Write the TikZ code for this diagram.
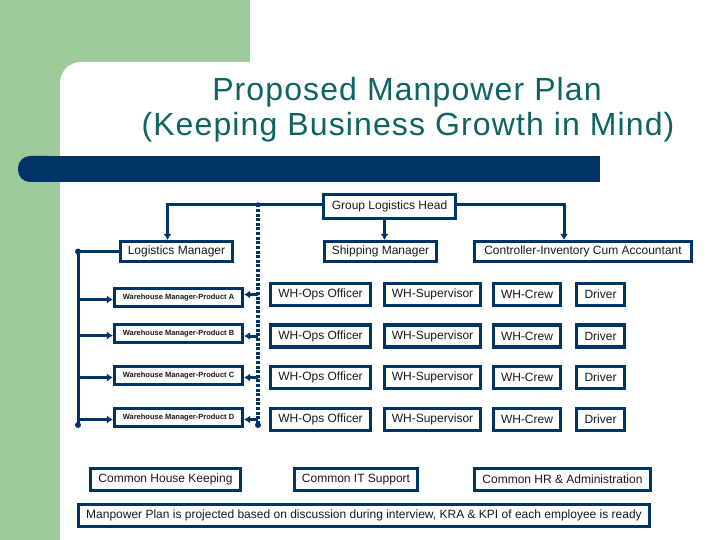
\documentclass[tikz,border=0pt]{standalone}
\usepackage{fontspec}
\setmainfont{Liberation Sans}
\newfontfamily\titlefont[LetterSpace=3.5]{Liberation Sans}
\usetikzlibrary{arrows.meta}
\definecolor{navy}{RGB}{0,51,102}
\definecolor{bggreen}{RGB}{157,203,156}
\definecolor{titleteal}{RGB}{14,100,98}
\definecolor{txt}{RGB}{25,25,25}
\tikzset{
  box/.style={draw=navy, line width=3.2pt, fill=white, inner sep=0pt, text=txt,
    font=\fontsize{12}{14}\selectfont},
  wbox/.style={box, minimum width=128pt, minimum height=18pt,
    font=\bfseries\fontsize{7.5}{9}\selectfont},
  opsbox/.style={box, minimum height=22pt},
  conn/.style={draw=navy, line width=3pt},
  arr/.style={conn, -{Latex[length=6pt,width=8pt]}},
  dotline/.style={draw=navy, line width=3.5pt, dash pattern=on 3pt off 1.6pt},
}
\begin{document}
\begin{tikzpicture}[x=1pt,y=-1pt]
\useasboundingbox (0,0) rectangle (720,540);
% background
\fill[white] (0,0) rectangle (720,540);
\fill[bggreen] (0,0) rectangle (250,540);
\fill[white, rounded corners=21pt] (60,62) rectangle (780,600);
% blue bar
\fill[navy, rounded corners=12pt] (18,156) rectangle (60,182);
\fill[navy] (40,156) rectangle (600,182);
% title
\node[anchor=base, text=titleteal, font=\titlefont\fontsize{32}{36}\selectfont, inner sep=0pt] (t1) at (407,101) {Proposed Manpower Plan};
\node[anchor=base, text=titleteal, font=\titlefont\fontsize{32}{36}\selectfont, inner sep=0pt] (t2) at (408,136) {(Keeping Business Growth in Mind)};
% top boxes
\node[box, minimum width=132pt, minimum height=24pt] (head) at (389.5,206.5) {Group Logistics Head};
\node[box, minimum width=112pt, minimum height=20pt] (logm) at (176.5,251.5) {Logistics Manager};
\node[box, minimum width=112pt, minimum height=20pt] (ship) at (380.5,251.5) {Shipping Manager};
\node[box, minimum width=217pt, minimum height=20pt] (ctrl) at (583,251.5) {Controller-Inventory  Cum Accountant};
% warehouse boxes
\node[wbox] (wA) at (178.5,297.5) {Warehouse Manager-Product A};
\node[wbox] (wB) at (178.5,333.5) {Warehouse Manager-Product B};
\node[wbox] (wC) at (178.5,375.5) {Warehouse Manager-Product C};
\node[wbox] (wD) at (178.5,417.5) {Warehouse Manager-Product D};
% rows
\foreach \r/\y in {A/294.5,B/336,C/377.5,D/419.5}{
  \node[opsbox, minimum width=100pt] (ops\r) at (320.5,\y) {WH-Ops Officer};
  \node[opsbox, minimum width=96pt] (sup\r) at (432.5,\y) {WH-Supervisor};
  \node[opsbox, minimum width=67pt] (crew\r) at (527,\y) {WH-Crew};
  \node[opsbox, minimum width=48pt] (drv\r) at (600.5,\y) {Driver};
}
% bottom boxes
\node[box, minimum width=150pt, minimum height=22pt] (chk) at (165.5,479.5) {Common House Keeping};
\node[box, minimum width=123pt, minimum height=22pt] (cit) at (356,479.5) {Common IT Support};
\node[box, minimum width=176pt, minimum height=22pt] (chr) at (562.5,479.5) {Common HR \& Administration};
\node[box, minimum width=571pt, minimum height=22pt] (note) at (364,515.5) {Manpower Plan is projected based on discussion during interview, KRA \& KPI of each employee is ready};
% connectors from head
\draw[arr] ([yshift=2pt]head.west) -| ([xshift=-9pt]logm.north);
\draw[arr] ([yshift=2pt]head.east) -| ([xshift=-19pt]ctrl.north);
\draw[arr] ([xshift=-5pt]head.south) -- ([xshift=-5pt]head.south |- ship.north);
% dotted line
\coordinate (dtop) at (258,204.5);
\coordinate (dbot) at (258,425);
\draw[dotline] (dtop) -- (dbot);
\fill[navy] (dtop) circle (2.2pt);
\fill[navy] (dbot) circle (3pt);
\foreach \r/\w in {A/wA,B/wB,C/wC,D/wD}{
  \draw[arr] (ops\r.west -| dtop) -- (ops\r.west -| \w.east);
}
% left bus
\coordinate (ltop) at (78,251.5);
\coordinate (lbot) at (78,425);
\draw[conn] (logm.west) -- (ltop) -- (lbot);
\fill[navy] (ltop) circle (3pt);
\fill[navy] (lbot) circle (3pt);
\foreach \w in {wA,wB,wC,wD}{
  \draw[arr] ([yshift=-2pt]\w.west -| ltop) -- ([yshift=-2pt]\w.west);
}
\end{tikzpicture}
\end{document}
